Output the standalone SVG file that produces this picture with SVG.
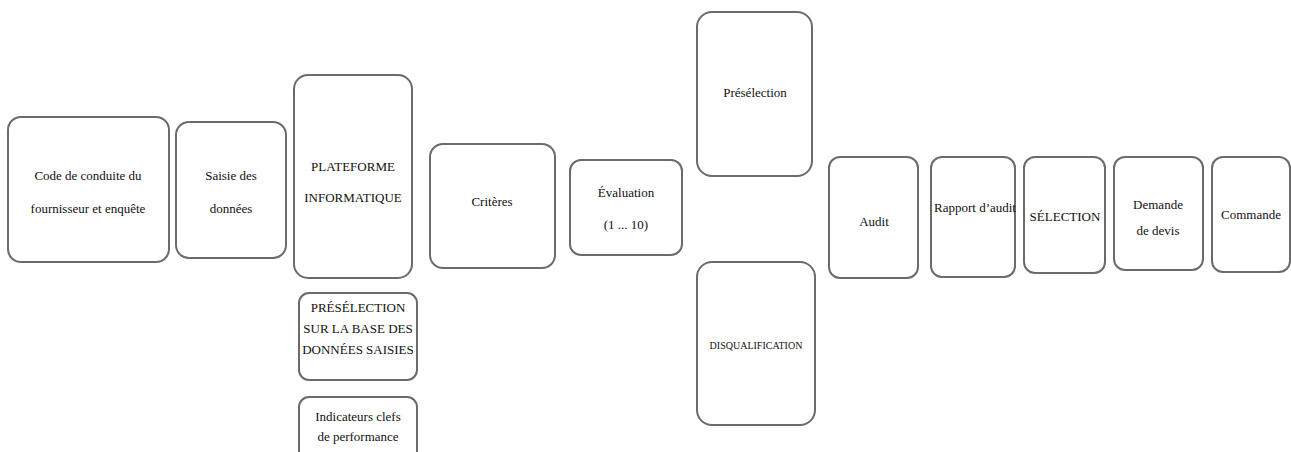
<svg xmlns="http://www.w3.org/2000/svg" width="1291" height="452" viewBox="0 0 1291 452">
<style>
.box{fill:#fff;stroke:#6b6b6b;stroke-width:2}
text{font-family:'Liberation Serif','Times New Roman','DejaVu Serif',serif;font-size:13px;fill:#111;text-anchor:middle}
.sm{font-size:10px}
</style>
<rect width="1291" height="452" fill="#fff"/>
<g id="connectors"></g>
<g id="n1"><rect class="box" x="8" y="117" width="161" height="145" rx="13"/><text x="88" y="180">Code de conduite du</text><text x="88" y="213">fournisseur et enquête</text></g>
<g id="n2"><rect class="box" x="176" y="122" width="110" height="136" rx="13"/><text x="231" y="180">Saisie des</text><text x="231" y="213">données</text></g>
<g id="n3"><rect class="box" x="294" y="75" width="118" height="203" rx="14"/><text x="353" y="171">PLATEFORME</text><text x="353" y="202">INFORMATIQUE</text></g>
<g id="n4"><rect class="box" x="299" y="293" width="118" height="87" rx="10"/><text x="358" y="312">PRÉSÉLECTION</text><text x="358" y="333">SUR LA BASE DES</text><text x="358" y="354">DONNÉES SAISIES</text></g>
<g id="n5"><rect class="box" x="299" y="397" width="118" height="70" rx="10"/><text x="358" y="421">Indicateurs clefs</text><text x="358" y="441">de performance</text></g>
<g id="n6"><rect class="box" x="430" y="144" width="125" height="124" rx="13"/><text x="492" y="206">Critères</text></g>
<g id="n7"><rect class="box" x="570" y="160" width="112" height="95" rx="11"/><text x="626" y="197">Évaluation</text><text x="626" y="229">(1 ... 10)</text></g>
<g id="n8"><rect class="box" x="697" y="12" width="115" height="164" rx="15"/><text x="755" y="97">Présélection</text></g>
<g id="n9"><rect class="box" x="697" y="262" width="118" height="163" rx="15"/><text class="sm" x="756" y="349">DISQUALIFICATION</text></g>
<g id="n10"><rect class="box" x="829" y="157" width="89" height="121" rx="11"/><text x="874" y="226">Audit</text></g>
<g id="n11"><rect class="box" x="931" y="157" width="84" height="120" rx="11"/><text x="975" y="212">Rapport d’audit</text></g>
<g id="n12"><rect class="box" x="1024" y="157" width="81" height="116" rx="11"/><text x="1065" y="221">SÉLECTION</text></g>
<g id="n13"><rect class="box" x="1114" y="157" width="89" height="113" rx="11"/><text x="1158" y="209">Demande</text><text x="1158" y="235">de devis</text></g>
<g id="n14"><rect class="box" x="1212" y="157" width="78" height="115" rx="11"/><text x="1251" y="219">Commande</text></g>
</svg>
